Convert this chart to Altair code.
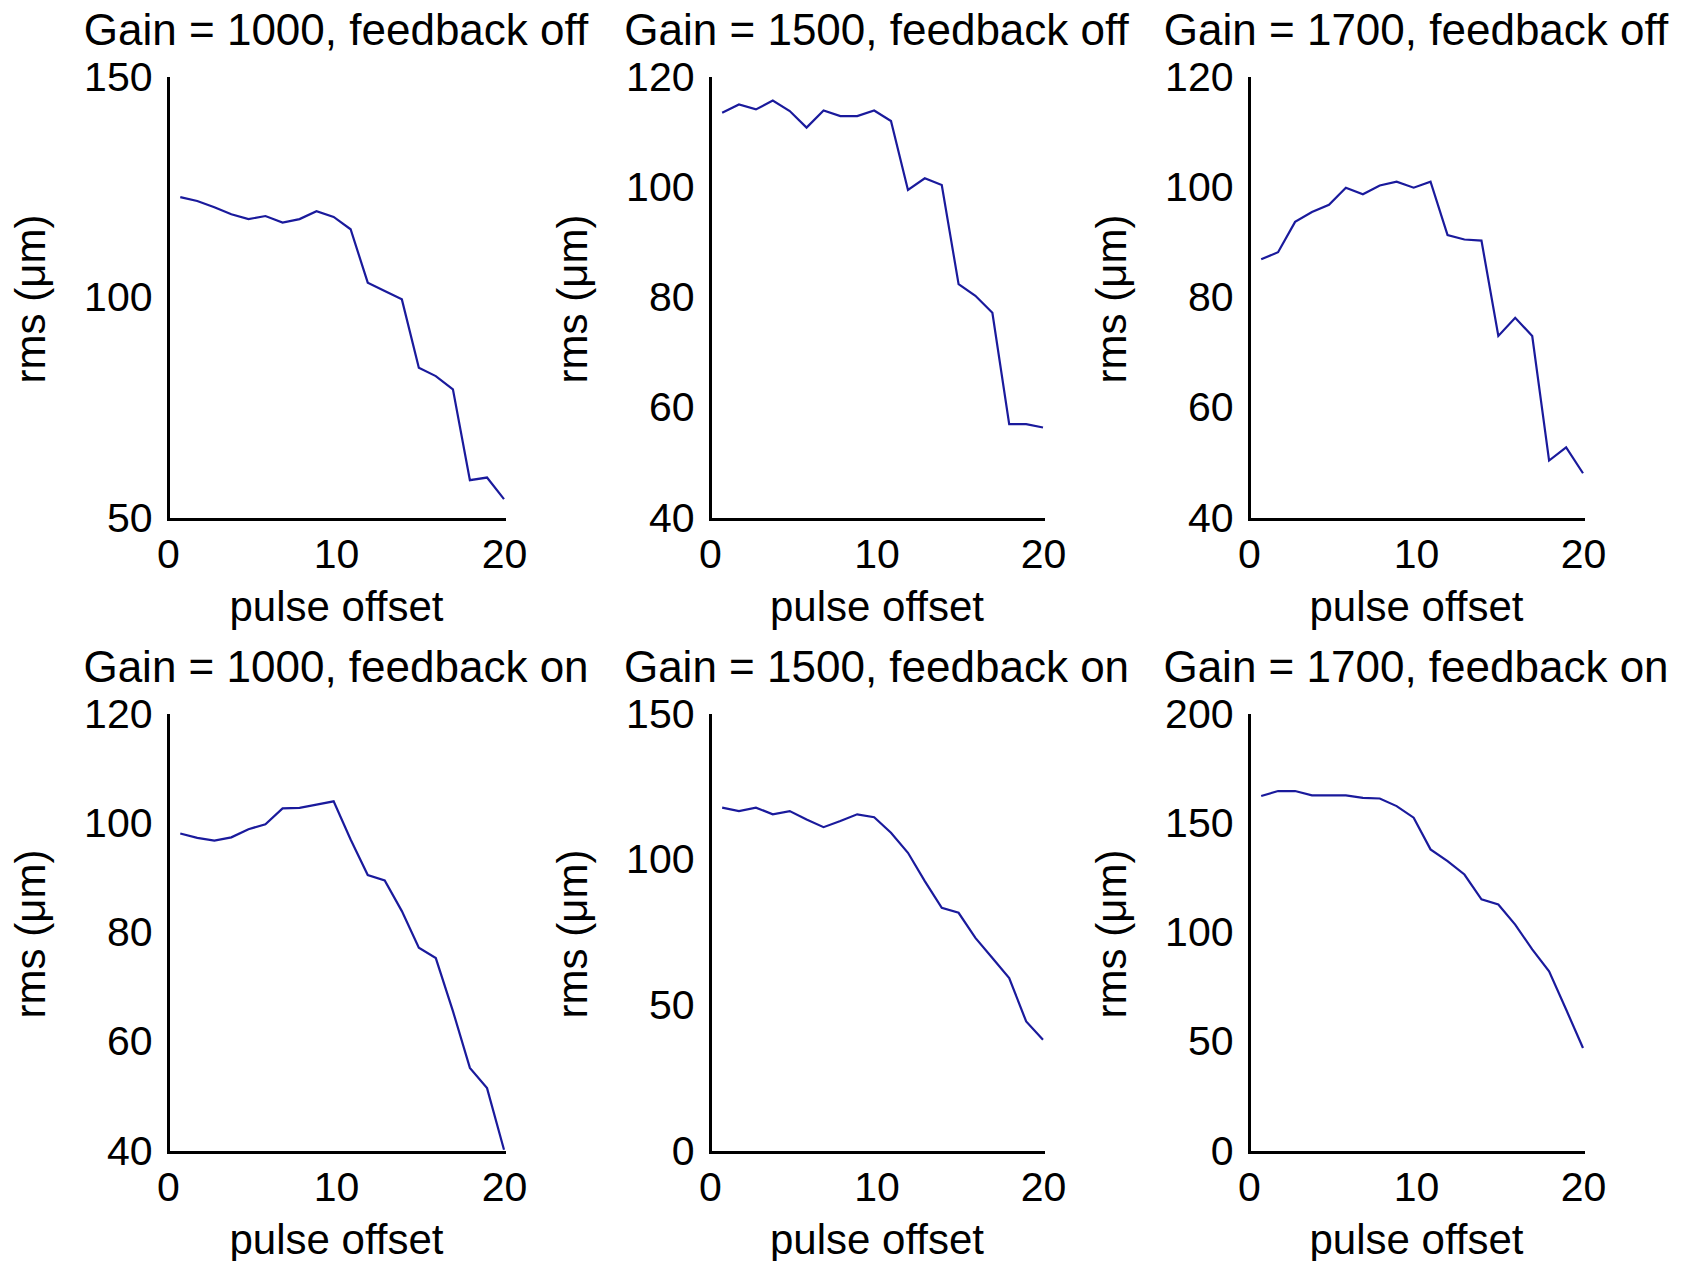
import altair as alt
import pandas as pd

# pulse offset positions
pulse_offset = [0.73, 1.74, 2.76, 3.77, 4.79, 5.80, 6.82, 7.83, 8.84, 9.86,
                10.87, 11.89, 12.90, 13.92, 14.93, 15.94, 16.96, 17.97, 18.99, 20.00]

titles = [
    "Gain = 1000, feedback off",
    "Gain = 1500, feedback off",
    "Gain = 1700, feedback off",
    "Gain = 1000, feedback on",
    "Gain = 1500, feedback on",
    "Gain = 1700, feedback on",
]

rms_1000_off = [123.0, 122.1, 120.7, 119.1, 118.0, 118.7, 117.2, 118.0, 119.8, 118.5,
                115.7, 103.6, 101.7, 99.8, 84.3, 82.4, 79.4, 58.8, 59.4, 54.5]
rms_1500_off = [113.7, 115.2, 114.3, 115.9, 114.0, 111.0, 114.1, 113.1, 113.1, 114.1,
                112.2, 99.7, 101.8, 100.6, 82.6, 80.5, 77.4, 57.2, 57.2, 56.6]
rms_1700_off = [87.1, 88.4, 93.9, 95.7, 97.0, 100.1, 98.9, 100.5, 101.2, 100.1,
                101.2, 91.5, 90.7, 90.5, 73.2, 76.5, 73.2, 50.6, 53.0, 48.3]
rms_1000_on = [98.3, 97.5, 97.0, 97.6, 99.1, 100.0, 102.9, 103.0, 103.6, 104.2,
               97.2, 90.7, 89.7, 84.1, 77.4, 75.5, 65.8, 55.4, 51.7, 40.4]
rms_1500_on = [118.2, 117.0, 118.2, 115.9, 117.0, 114.1, 111.5, 113.6, 115.9, 114.9,
               109.6, 102.7, 93.0, 83.8, 82.1, 73.5, 66.6, 59.7, 44.8, 38.5]
rms_1700_on = [162.9, 165.2, 165.2, 163.2, 163.2, 163.2, 162.1, 161.8, 158.3, 153.0,
               138.5, 133.1, 127.0, 115.6, 113.3, 104.1, 92.7, 82.7, 65.2, 47.6]

series = [rms_1000_off, rms_1500_off, rms_1700_off, rms_1000_on, rms_1500_on, rms_1700_on]

y_domains = [[50, 150], [40, 120], [40, 120], [40, 120], [0, 150], [0, 200]]
y_ticks = [
    [50, 100, 150],
    [40, 60, 80, 100, 120],
    [40, 60, 80, 100, 120],
    [40, 60, 80, 100, 120],
    [0, 50, 100, 150],
    [0, 50, 100, 150, 200],
]
x_ticks = [0, 10, 20]
x_label = "pulse offset"
y_label = "rms (μm)"

widths = [336, 333, 334]
heights = [441, 437]

FONT = "Liberation Sans"
LINE_COLOR = "#1a1a9c"


def panel(i):
    df = pd.DataFrame({"x": pulse_offset, "y": series[i]})
    return (
        alt.Chart(
            df,
            title=alt.Title(
                titles[i], fontSize=44, font=FONT, fontWeight="normal", color="black",
                anchor="middle", frame="group", baseline="alphabetic", offset=-32,
            ),
        )
        .mark_line(color=LINE_COLOR, strokeWidth=2.2)
        .encode(
            x=alt.X(
                "x:Q",
                scale=alt.Scale(domain=[0, 20], nice=False, zero=False),
                axis=alt.Axis(values=x_ticks, title=x_label, labelFlush=False,
                              labelPadding=16, titlePadding=12),
            ),
            y=alt.Y(
                "y:Q",
                scale=alt.Scale(domain=y_domains[i], nice=False, zero=False),
                axis=alt.Axis(values=y_ticks[i], title=y_label, labelFlush=False,
                              labelPadding=16, titlePadding=30),
            ),
        )
        .properties(width=widths[i % 3], height=heights[i // 3])
    )


chart = (
    alt.concat(*[panel(i) for i in range(6)], columns=3,
               spacing={"row": 196, "column": 206}, bounds="flush")
    .properties(padding={"left": 10, "top": 10, "right": 0, "bottom": 0})
    .configure(background="white")
    .configure_view(stroke=None)
    .configure_axis(
        grid=False,
        ticks=False,
        tickSize=0,
        domainColor="black",
        domainWidth=3,
        domainCap="square",
        labelFont=FONT,
        labelFontSize=41,
        labelColor="black",
        labelOverlap=False,
        titleFont=FONT,
        titleFontSize=42,
        titleFontWeight="normal",
        titleColor="black",
    )
)

chart.save("out.html", embed_options={"renderer": "svg", "actions": False})
